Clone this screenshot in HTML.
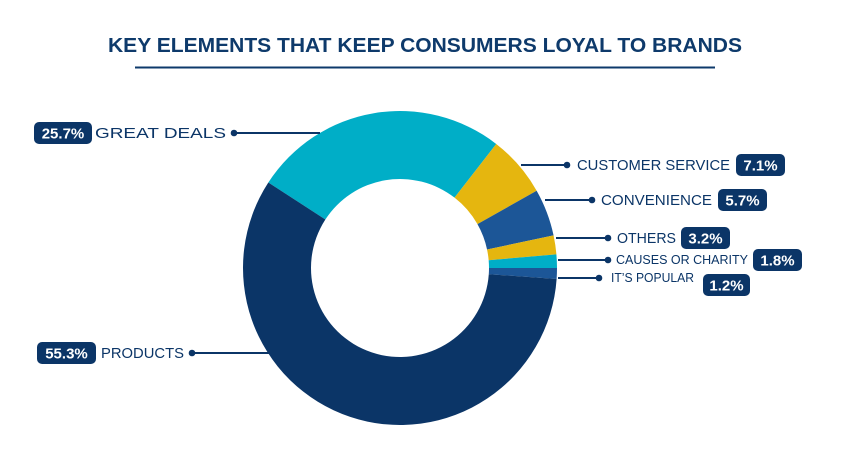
<!DOCTYPE html>
<html><head><meta charset="utf-8"><style>
body{margin:0;background:#fff;}
svg{display:block;font-family:"Liberation Sans",sans-serif;}
</style></head><body>
<svg id="s" width="850" height="450" viewBox="0 0 850 450">
<text x="108" y="52" textLength="634" lengthAdjust="spacingAndGlyphs" font-size="20" font-weight="bold" fill="#0e3a6b">KEY ELEMENTS THAT KEEP CONSUMERS LOYAL TO BRANDS</text>
<rect x="135" y="66.5" width="580" height="2" fill="#0e3a6b"/>
<g id="pie"></g>
<g id="lab"></g>
</svg>
<script>
var cx=400,cy=268,R=157,r=89;
var cols=["#00aec7","#e5b60f","#1c5697","#e5b60f","#00aec7","#1c5697","#0b3567"];
var ang=[303,397.8,420.5,438,445,450,454,663];
var h="";
function p(rad,deg){var t=deg*Math.PI/180;return [cx+rad*Math.sin(t),cy-rad*Math.cos(t)];}
for(var i=0;i<7;i++){var a=ang[i],b=ang[i+1];var l=(b-a)>180?1:0;
var p1=p(R,a),p2=p(R,b),p3=p(r,b),p4=p(r,a);
h+='<path d="M'+p1+' A'+R+','+R+' 0 '+l+' 1 '+p2+' L'+p3+' A'+r+','+r+' 0 '+l+' 0 '+p4+'Z" fill="'+cols[i]+'"/>';}
document.getElementById("pie").innerHTML=h;
var L=[
 [320,234,133,95,"GREAT DEALS",34,58,14,"L",133,131],
 [521,567,165,577,"CUSTOMER SERVICE",736,49,14,"R",165,153],
 [545,592,200,601,"CONVENIENCE",718,49,14,"R",200,111],
 [556,608,238,617,"OTHERS",681,49,14,"R",238,59],
 [558,608,260,616,"CAUSES OR CHARITY",753,49,12,"R",260,132],
 [558,599,278,611,"IT\u2019S POPULAR",703,47,12,"R",285,83],
 [270,192,353,101,"PRODUCTS",37,59,14,"L",353,83]];
var pct=["25.7%","7.1%","5.7%","3.2%","1.8%","1.2%","55.3%"];
var g="";
L.forEach(function(o,i){
 g+='<line x1="'+o[0]+'" y1="'+o[2]+'" x2="'+o[1]+'" y2="'+o[2]+'" stroke="#0b3567" stroke-width="2"/>';
 g+='<circle cx="'+o[1]+'" cy="'+o[2]+'" r="3.3" fill="#0b3567"/>';
 g+='<text x="'+o[3]+'" y="'+(o[2]+(o[7]==14?5:4))+'" textLength="'+o[10]+'" lengthAdjust="spacingAndGlyphs" font-size="'+(o[7]+1)+'" fill="#0b3567">'+o[4]+'</text>';
 g+='<rect x="'+o[5]+'" y="'+(o[9]-11)+'" width="'+o[6]+'" height="22" rx="5" fill="#0b3567"/>';
 g+='<text x="'+(o[5]+o[6]/2)+'" y="'+(o[9]+5.5)+'" text-anchor="middle" font-size="15" font-weight="bold" fill="#fff">'+pct[i]+'</text>';
});
document.getElementById("lab").innerHTML=g;
</script>
</body></html>
